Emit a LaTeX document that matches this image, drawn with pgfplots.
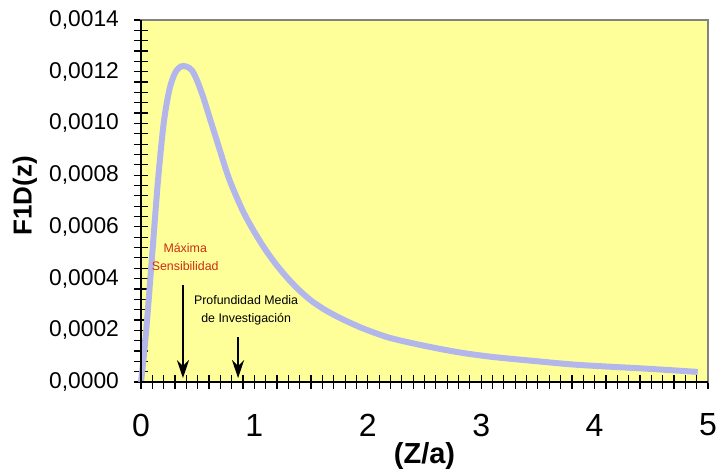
\documentclass[border=0pt]{standalone}
\usepackage{fontspec}
\setmainfont{Liberation Sans}
\usepackage{pgfplots}
\pgfplotsset{compat=1.18}
\usetikzlibrary{arrows.meta}

\definecolor{fondo}{RGB}{255,255,153}
\definecolor{curva}{RGB}{178,182,234}
\definecolor{rojo}{RGB}{205,45,20}

\begin{document}
\begin{tikzpicture}
\useasboundingbox (-70.5pt,-45.5pt) rectangle (289pt,191pt);
\begin{axis}[
    scale only axis,
    width=283.5pt,
    height=181pt,
    xmin=0, xmax=5,
    ymin=0, ymax=0.0014,
    xtick={0,1,2,3,4,5},
    ytick={0,0.0002,0.0004,0.0006,0.0008,0.0010,0.0012,0.0014},
    minor x tick num=9,
    minor y tick num=4,
    xtick pos=bottom,
    ytick pos=left,
    tick align=center,
    major tick length=7pt,
    minor tick length=7pt,
    every tick/.style={black, line width=0.6pt},
    axis line style={draw={rgb,255:red,130;green,130;blue,130}, line width=1pt},
    axis background/.style={fill=fondo},
    scaled y ticks=false,
    /pgf/number format/assume math mode=true,
    yticklabel style={
        /pgf/number format/fixed,
        /pgf/number format/fixed zerofill,
        /pgf/number format/precision=4,
        /pgf/number format/use comma,
        font=\fontsize{11.4}{12}\selectfont, anchor=east, xshift=-4pt},
    xticklabel style={font=\fontsize{16}{17}\selectfont, anchor=center, yshift=-18pt},
    every axis x label/.style={at={(rel axis cs:0.5,0)}, yshift=-37pt, anchor=center},
    every axis y label/.style={at={(rel axis cs:0,0.514)}, xshift=-58pt, rotate=90, anchor=center},
    xlabel={\fontsize{14.5}{15}\selectfont\bfseries (Z/a)},
    ylabel={\fontsize{13}{14}\selectfont\bfseries F1D(z)},
    clip=false,
]
\addplot[color=curva, line width=3pt, smooth] coordinates {
    (0.000, 0.00000)
    (0.020, 0.00008)
    (0.050, 0.00022)
    (0.100, 0.00050)
    (0.150, 0.00078)
    (0.200, 0.00100)
    (0.250, 0.00113)
    (0.300, 0.001195)
    (0.350, 0.00122)
    (0.400, 0.00122)
    (0.450, 0.001205)
    (0.500, 0.00116)
    (0.550, 0.00110)
    (0.600, 0.00103)
    (0.650, 0.00096)
    (0.700, 0.00089)
    (0.750, 0.00082)
    (0.800, 0.00076)
    (0.900, 0.00066)
    (1.000, 0.00058)
    (1.100, 0.00051)
    (1.200, 0.00045)
    (1.300, 0.000398)
    (1.400, 0.000353)
    (1.500, 0.000315)
    (1.600, 0.000285)
    (1.700, 0.000260)
    (1.800, 0.000238)
    (1.900, 0.000218)
    (2.000, 0.000200)
    (2.200, 0.000170)
    (2.500, 0.000140)
    (2.800, 0.000115)
    (3.100, 0.000097)
    (3.500, 0.000080)
    (3.800, 0.000068)
    (4.100, 0.000060)
    (4.400, 0.000053)
    (4.700, 0.000045)
    (4.910, 0.000039)
};
% ejes izquierdo e inferior en negro
\draw[black, line width=0.8pt] (rel axis cs:0,1) -- (rel axis cs:0,0) -- (rel axis cs:1,0);
% anotaciones
\node[text=rojo, font=\fontsize{6.2}{7}\selectfont, align=center] at (axis cs:0.39,0.000485)
    {Máxima\\[2pt]Sensibilidad};
\node[text=black, font=\fontsize{6.2}{7}\selectfont, align=center] at (axis cs:0.927,0.000278)
    {Profundidad Media\\[2pt]de Investigación};
\draw[black, line width=1.4pt, -{Stealth[length=9pt, width=6pt]}]
    (axis cs:0.37,0.000375) -- (axis cs:0.37,0.000015);
\draw[black, line width=1.4pt, -{Stealth[length=9pt, width=6pt]}]
    (axis cs:0.856,0.000174) -- (axis cs:0.856,0.000015);
\end{axis}
\end{tikzpicture}
\end{document}
